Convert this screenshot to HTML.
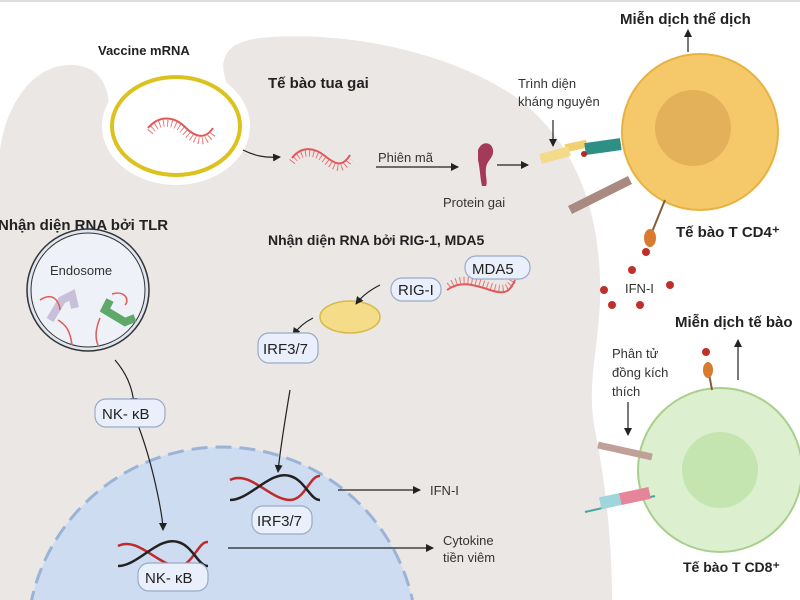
<!DOCTYPE html>
<html><head><meta charset="utf-8"><style>
html,body{margin:0;padding:0;background:#fff;overflow:hidden}
svg{display:block}
text{font-family:"Liberation Sans",sans-serif}
</style></head><body>
<svg width="800" height="600" viewBox="0 0 800 600" xmlns="http://www.w3.org/2000/svg">
<defs>
<marker id="a" markerWidth="8" markerHeight="8" refX="7" refY="4" orient="auto" markerUnits="userSpaceOnUse"><path d="M0,0 L8,4 L0,8 z" fill="#222"/></marker>
</defs>
<rect width="800" height="600" fill="#fff"/>
<rect width="800" height="2" fill="#ddd"/>
<!-- dendritic cell -->
<path d="M0,150 C5,110 30,65 70,65 C100,65 108,85 110,110 C130,95 230,90 230,90 C215,60 225,42 260,38 C340,30 450,50 520,100 C570,140 598,200 600,280 C602,340 585,380 595,430 C605,480 612,540 612,600 L0,600 Z" fill="#ebe7e5"/>
<ellipse cx="176" cy="126" rx="74" ry="59" fill="#fff"/>
<ellipse cx="176" cy="126" rx="64" ry="49" fill="#fff" stroke="#dcc21f" stroke-width="4"/>
<!-- rna squiggles -->
<g fill="none" stroke="#e05a5a">
<path d="M148,128 C160,114 175,117 185,127 S205,140 213,128" stroke-width="2"/>
<path d="M150,132 C160,119 175,122 185,132 S205,145 213,133" stroke-width="7" stroke-dasharray="1 3" opacity=".8"/>
<path d="M292,158 C302,145 315,148 325,156 S342,168 350,155" stroke-width="2"/>
<path d="M292,162 C302,149 315,152 325,160 S342,172 350,159" stroke-width="7" stroke-dasharray="1 3" opacity=".8"/>
<path d="M447,290 C460,280 475,285 490,290 S510,292 515,280" stroke-width="2"/>
<path d="M449,286 C460,276 475,281 490,286 S510,288 515,276" stroke-width="7" stroke-dasharray="1 3" opacity=".8"/>
</g>
<!-- nucleus -->
<circle cx="222" cy="642" r="195" fill="#cddcf0" stroke="#9ab3d6" stroke-width="3" stroke-dasharray="16 8"/>
<!-- labels -->
<text x="98" y="55" font-size="13" font-weight="bold" fill="#222">Vaccine mRNA</text>
<text x="268" y="88" font-size="15" font-weight="bold" fill="#222">Tế bào tua gai</text>
<text x="-2" y="230" font-size="15" font-weight="bold" fill="#222">Nhận diện RNA bởi TLR</text>
<text x="268" y="245" font-size="14" font-weight="bold" fill="#222">Nhận diện RNA bởi RIG-1, MDA5</text>
<text x="620" y="24" font-size="15" font-weight="bold" fill="#222">Miễn dịch thể dịch</text>
<text x="676" y="237" font-size="15" font-weight="bold" fill="#222">Tế bào T CD4⁺</text>
<text x="675" y="327" font-size="15" font-weight="bold" fill="#222">Miễn dịch tế bào</text>
<text x="683" y="572" font-size="14" font-weight="bold" fill="#222">Tế bào T CD8⁺</text>
<text x="518" y="88" font-size="13" fill="#333">Trình diện</text>
<text x="518" y="106" font-size="13" fill="#333">kháng nguyên</text>
<text x="378" y="162" font-size="13" fill="#333">Phiên mã</text>
<text x="443" y="207" font-size="13" fill="#333">Protein gai</text>
<text x="612" y="358" font-size="13" fill="#333">Phân tử</text>
<text x="612" y="377" font-size="13" fill="#333">đồng kích</text>
<text x="612" y="396" font-size="13" fill="#333">thích</text>
<text x="625" y="293" font-size="13" fill="#333">IFN-I</text>
<text x="430" y="495" font-size="13" fill="#333">IFN-I</text>
<text x="443" y="545" font-size="13" fill="#333">Cytokine</text>
<text x="443" y="562" font-size="13" fill="#333">tiền viêm</text>
<!-- protein gai -->
<path d="M478,150 C482,140 492,142 493,150 C494,158 487,160 486,168 C485,176 488,182 486,186 L482,186 C480,178 480,168 478,160 Z" fill="#a43a5a"/>
<!-- CD4 -->
<circle cx="700" cy="132" r="78" fill="#f5c96a" stroke="#e6b240" stroke-width="2"/>
<circle cx="693" cy="128" r="38" fill="#e3b15a"/>
<rect x="565" y="142" width="22" height="8" fill="#f0d070" transform="rotate(-12 576 146)"/>
<rect x="585" y="141" width="36" height="12" fill="#2e8f84" transform="rotate(-8 600 147)"/>
<rect x="540" y="150" width="30" height="10" fill="#f3db8a" transform="rotate(-15 555 155)"/>
<circle cx="584" cy="154" r="3" fill="#b02a2a"/>
<path d="M570,210 L630,180" stroke="#a88a80" stroke-width="9"/>
<line x1="665" y1="200" x2="652" y2="232" stroke="#8a5a3a" stroke-width="2"/>
<ellipse cx="650" cy="238" rx="6" ry="9" fill="#d97a2e"/>
<g fill="#c0302a"><circle cx="646" cy="252" r="4"/><circle cx="632" cy="270" r="4"/><circle cx="604" cy="290" r="4"/><circle cx="612" cy="305" r="4"/><circle cx="640" cy="305" r="4"/><circle cx="670" cy="285" r="4"/><circle cx="706" cy="352" r="4"/></g>
<!-- CD8 -->
<circle cx="720" cy="470" r="82" fill="#dcf0d0" stroke="#a8d08c" stroke-width="2"/>
<circle cx="720" cy="470" r="38" fill="#c4e4b0"/>
<line x1="712" y1="390" x2="708" y2="368" stroke="#8a5a3a" stroke-width="2"/>
<ellipse cx="708" cy="370" rx="5" ry="8" fill="#d97a2e"/>
<path d="M598,445 L652,457" stroke="#c0a098" stroke-width="7"/>
<path d="M585,512 L655,496" stroke="#4aa6a0" stroke-width="2"/>
<rect x="600" y="495" width="22" height="12" fill="#9fd6dc" transform="rotate(-12 611 501)"/>
<rect x="620" y="490" width="30" height="12" fill="#e6859a" transform="rotate(-12 635 496)"/>
<!-- endosome -->
<circle cx="88" cy="290" r="61" fill="#dfe6f0" stroke="#333" stroke-width="1.5"/>
<circle cx="88" cy="290" r="57" fill="#eef1f8" stroke="#333" stroke-width="1"/>
<text x="50" y="275" font-size="13" fill="#333">Endosome</text>
<path d="M50,320 L62,300 L72,295 L75,308" stroke="#c8c0d8" stroke-width="8" fill="none"/>
<path d="M110,300 L105,310 L125,322 L135,318" stroke="#5ea86a" stroke-width="8" fill="none"/>
<g fill="none" stroke="#e05a5a" stroke-width="1.5">
<path d="M40,300 C55,290 60,305 60,310"/><path d="M58,320 C66,325 70,330 72,345"/>
<path d="M100,318 C95,330 95,338 98,345"/><path d="M112,294 C125,290 130,300 125,305"/>
</g>
<!-- mitochondria -->
<ellipse cx="350" cy="317" rx="30" ry="16" fill="#f5dc88" stroke="#d9b94a" stroke-width="1.5"/>
<!-- DNA -->
<g fill="none" stroke-width="2.5">
<path d="M230,480 C250,470 270,500 290,500 C305,500 310,475 320,476" stroke="#c02a2a"/>
<path d="M230,500 C250,500 270,470 290,476 C305,480 310,500 320,500" stroke="#222"/>
<path d="M118,546 C138,536 158,566 178,566 C193,566 198,541 208,542" stroke="#c02a2a"/>
<path d="M118,566 C138,566 158,536 178,542 C193,546 198,566 208,566" stroke="#222"/>
</g>
<!-- arrows -->
<g stroke="#222" stroke-width="1.2" fill="none" marker-end="url(#a)">
<path d="M243,150 C255,156 265,158 280,157"/>
<line x1="376" y1="167" x2="458" y2="167"/>
<line x1="497" y1="165" x2="528" y2="165"/>
<line x1="553" y1="120" x2="553" y2="146"/>
<line x1="688" y1="52" x2="688" y2="30"/>
<line x1="738" y1="380" x2="738" y2="340"/>
<line x1="628" y1="402" x2="628" y2="435"/>
<path d="M115,360 C128,375 133,390 134,405"/>
<path d="M138,425 C155,470 163,520 163,530"/>
<path d="M380,285 C370,290 362,296 356,304"/>
<path d="M313,318 C305,322 298,328 293,335"/>
<path d="M290,390 C285,420 280,450 278,472"/>
<line x1="338" y1="490" x2="420" y2="490"/>
<line x1="228" y1="548" x2="433" y2="548"/>
</g>
<!-- boxes -->
<g fill="#eaf0fb" stroke="#9aaac8" stroke-width="1.2">
<rect x="465" y="256" width="65" height="23" rx="11"/>
<rect x="391" y="278" width="50" height="23" rx="11"/>
<rect x="258" y="333" width="60" height="30" rx="11"/>
<rect x="95" y="399" width="70" height="28" rx="11"/>
<rect x="252" y="506" width="60" height="28" rx="11"/>
<rect x="138" y="563" width="70" height="28" rx="11"/>
</g>
<g font-size="15" fill="#222">
<text x="472" y="274">MDA5</text>
<text x="398" y="295">RIG-I</text>
<text x="263" y="354">IRF3/7</text>
<text x="102" y="419">NK- κB</text>
<text x="257" y="526">IRF3/7</text>
<text x="145" y="583">NK- κB</text>
</g>
</svg>
</body></html>
